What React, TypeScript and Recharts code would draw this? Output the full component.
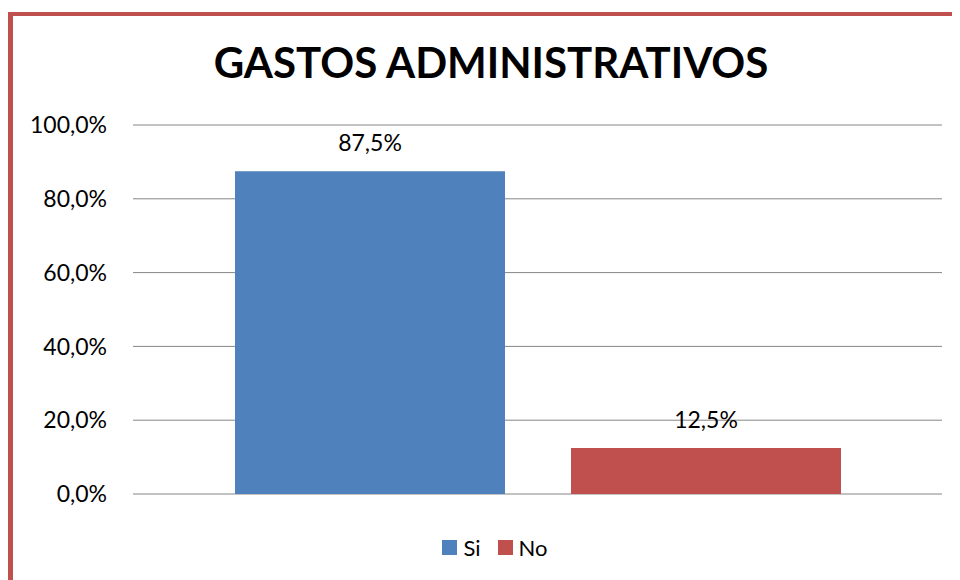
import React from 'react';
import { BarChart, Bar, YAxis, XAxis, CartesianGrid, Legend, LabelList } from 'recharts';

const categories = [''];
const siValues = [87.5];
const noValues = [12.5];
const yTicks = [0, 20, 40, 60, 80, 100];

const seriesNames = ['Si', 'No'];
const seriesColors = ['#4f81bd', '#c0504d'];

const data = categories.map((name, i) => ({ name, Si: siValues[i], No: noValues[i] }));

const fmt = (v: number) => `${Number(v).toFixed(1).replace('.', ',')}%`;

const FONT = 'Lato, "Open Sans", sans-serif';

// legend kept in series order (recharts sorts by name otherwise)
const LegendBox = () => (
  <div style={{ display: 'flex', justifyContent: 'center', alignItems: 'center', fontSize: 22, color: '#000', fontFamily: FONT }}>
    {seriesNames.map((n, i) => (
      <div key={n} style={{ display: 'flex', alignItems: 'center', marginRight: i === 0 ? 17 : 0 }}>
        <span style={{ display: 'inline-block', width: 15, height: 15, background: seriesColors[i], marginRight: 6 }} />
        <span>{n}</span>
      </div>
    ))}
  </div>
);

const App: React.FC = () => {
  return (
    <div style={{ position: 'relative', width: 952, height: 572, overflow: 'hidden', fontFamily: FONT }}>
      {/* red frame, only top and left edges fall inside the picture */}
      <div
        style={{
          position: 'absolute',
          top: 4,
          left: 0,
          width: 1200,
          height: 1200,
          borderTop: '4px solid #c0504d',
          borderLeft: '5px solid #c0504d',
        }}
      />
      <div
        style={{
          position: 'absolute',
          top: 33,
          left: 0,
          width: 966,
          textAlign: 'center',
          fontSize: 42,
          lineHeight: '42px',
          fontWeight: 700,
          color: '#000',
        }}
      >
        GASTOS ADMINISTRATIVOS
      </div>
      <div style={{ position: 'absolute', top: 0, left: 0 }}>
        <BarChart
          width={952}
          height={572}
          data={data}
          margin={{ top: 117, right: 18, bottom: 86, left: 25 }}
          barSize={270}
          barGap={66}
        >
          <CartesianGrid vertical={false} stroke="#868686" />
          <XAxis dataKey="name" hide />
          <YAxis
            width={100}
            domain={[0, 100]}
            ticks={yTicks}
            tickFormatter={fmt}
            axisLine={false}
            tickLine={false}
            tickSize={0}
            tickMargin={26}
            tick={{ fill: '#000', fontSize: 23, fontFamily: FONT }}
            interval={0}
          />
          <Legend
            layout="horizontal"
            verticalAlign="middle"
            align="center"
            wrapperStyle={{ top: 526, left: 22, width: 930 }}
            content={<LegendBox />}
          />
          <Bar dataKey="Si" fill="#4f81bd" isAnimationActive={false}>
            <LabelList dataKey="Si" position="top" offset={20} formatter={fmt} fill="#000" fontSize={23} fontFamily={FONT} />
          </Bar>
          <Bar dataKey="No" fill="#c0504d" isAnimationActive={false}>
            <LabelList dataKey="No" position="top" offset={20} formatter={fmt} fill="#000" fontSize={23} fontFamily={FONT} />
          </Bar>
        </BarChart>
      </div>
    </div>
  );
};

export default App;
